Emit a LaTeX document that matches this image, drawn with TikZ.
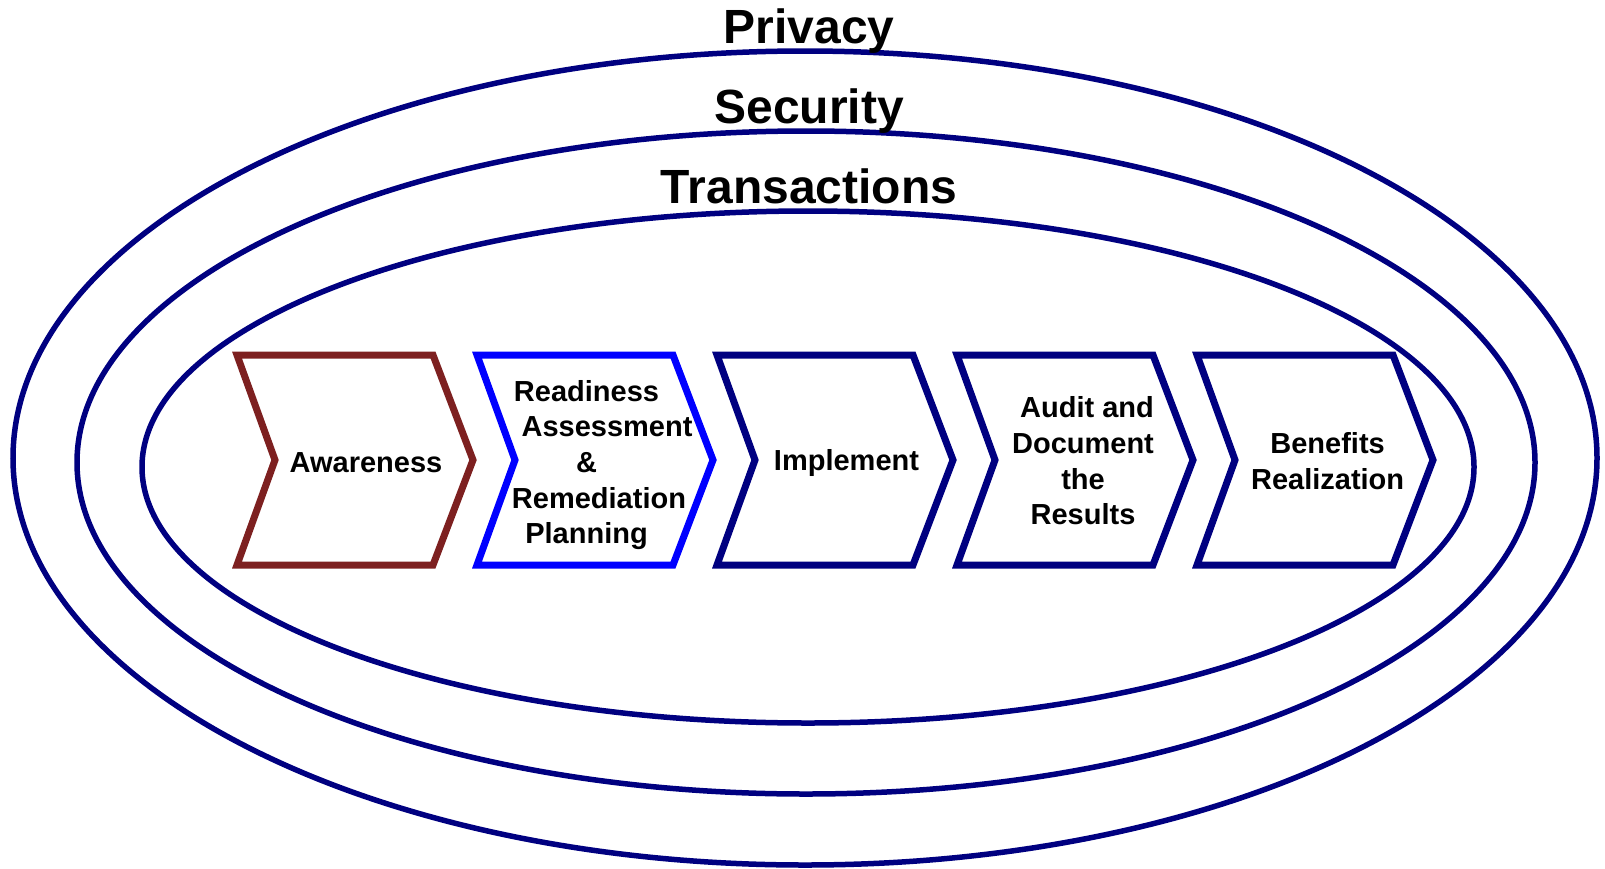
\documentclass[tikz,border=0pt]{standalone}
\usepackage{fontspec}
\setmainfont{Liberation Sans}
\definecolor{navy}{RGB}{0,0,128}
\definecolor{awarered}{RGB}{125,32,32}
\definecolor{readyblue}{RGB}{0,0,255}
\begin{document}
\begin{tikzpicture}[x=1pt, y=-1pt,
  ring/.style={draw=navy, line width=5.5pt},
  chev/.style={line width=7pt, line join=miter},
  lbl/.style={font=\bfseries\fontsize{29}{35.6}\selectfont, align=center, inner sep=0pt},
  ttl/.style={font=\bfseries\fontsize{48}{56}\selectfont, anchor=base, inner sep=0pt}]
\useasboundingbox (0,0) rectangle (1605,868);
\draw[ring] (805,458) ellipse [x radius=792, y radius=407];
\draw[ring] (806,462.5) ellipse [x radius=729, y radius=331.5];
\draw[ring] (808,467) ellipse [x radius=666, y radius=256];
\foreach \x/\c in {237/awarered, 477/readyblue, 717/navy, 957/navy, 1197/navy}
  \draw[chev, draw=\c] (\x,355) -- ++(196,0) -- ++(40,105) -- ++(-40,105)
    -- ++(-196,0) -- ++(38,-105) -- cycle;
\node[lbl] (aware) at (366,462.5) {Awareness};
\node[lbl] (ready) at (586.5,465) {Readiness\\\hspace*{41pt}Assessment\\\&\\\hspace*{25pt}Remediation\\Planning};
\node[lbl] (impl) at (846.5,462.5) {Implement};
\node[lbl] (audit) at (1083,461) {\hspace*{8pt}Audit and\\Document\\the\hspace*{24pt}\\Results};
\node[lbl] (benef) at (1327.6,461) {Benefits\\Realization};
\node[ttl] (priv) at (809,43) {Privacy};
\node[ttl] (secu) at (809,123) {Security};
\node[ttl] (trans) at (809,203) {Transactions};
\end{tikzpicture}
\end{document}
